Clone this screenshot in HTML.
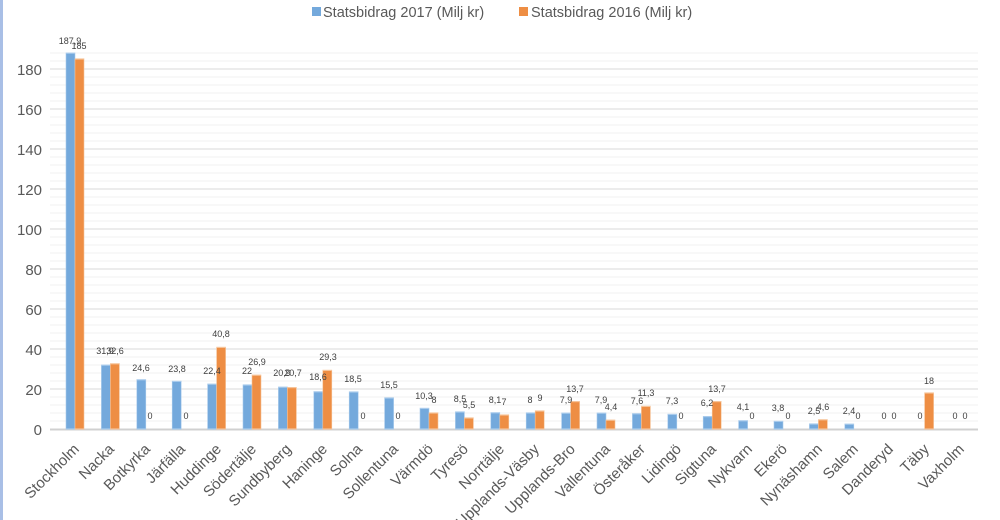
<!DOCTYPE html>
<html><head><meta charset="utf-8"><style>
body{margin:0;background:#fff;}
svg{display:block;font-family:"Liberation Sans",sans-serif;}
.v{font-size:9px;fill:#404040;text-anchor:middle}
.c{font-size:15px;fill:#595959;text-anchor:end}
.y{font-size:15px;fill:#595959;text-anchor:end}
.b{fill:#74a9dc;stroke:#a9cbec;stroke-width:.6}
.o{fill:#ee8e44;stroke:#f6c49a;stroke-width:.6}
</style></head><body>
<svg width="1000" height="520" viewBox="0 0 1000 520">
<rect x="0" y="0" width="3" height="520" fill="#a9bfe6"/>
<g stroke="#f0f0f0" stroke-width="1">
<line x1="50" x2="978" y1="421" y2="421"/><line x1="50" x2="978" y1="413" y2="413"/><line x1="50" x2="978" y1="405" y2="405"/><line x1="50" x2="978" y1="397" y2="397"/>
<line x1="50" x2="978" y1="381" y2="381"/><line x1="50" x2="978" y1="373" y2="373"/><line x1="50" x2="978" y1="365" y2="365"/><line x1="50" x2="978" y1="357" y2="357"/>
<line x1="50" x2="978" y1="341" y2="341"/><line x1="50" x2="978" y1="333" y2="333"/><line x1="50" x2="978" y1="325" y2="325"/><line x1="50" x2="978" y1="317" y2="317"/>
<line x1="50" x2="978" y1="301" y2="301"/><line x1="50" x2="978" y1="293" y2="293"/><line x1="50" x2="978" y1="285" y2="285"/><line x1="50" x2="978" y1="277" y2="277"/>
<line x1="50" x2="978" y1="261" y2="261"/><line x1="50" x2="978" y1="253" y2="253"/><line x1="50" x2="978" y1="245" y2="245"/><line x1="50" x2="978" y1="237" y2="237"/>
<line x1="50" x2="978" y1="221" y2="221"/><line x1="50" x2="978" y1="213" y2="213"/><line x1="50" x2="978" y1="205" y2="205"/><line x1="50" x2="978" y1="197" y2="197"/>
<line x1="50" x2="978" y1="181" y2="181"/><line x1="50" x2="978" y1="173" y2="173"/><line x1="50" x2="978" y1="165" y2="165"/><line x1="50" x2="978" y1="157" y2="157"/>
<line x1="50" x2="978" y1="141" y2="141"/><line x1="50" x2="978" y1="133" y2="133"/><line x1="50" x2="978" y1="125" y2="125"/><line x1="50" x2="978" y1="117" y2="117"/>
<line x1="50" x2="978" y1="101" y2="101"/><line x1="50" x2="978" y1="93" y2="93"/><line x1="50" x2="978" y1="85" y2="85"/><line x1="50" x2="978" y1="77" y2="77"/>
<line x1="50" x2="978" y1="61" y2="61"/><line x1="50" x2="978" y1="53" y2="53"/>
</g>
<g stroke="#dadada" stroke-width="1">
<line x1="50" x2="978" y1="389" y2="389"/><line x1="50" x2="978" y1="349" y2="349"/><line x1="50" x2="978" y1="309" y2="309"/><line x1="50" x2="978" y1="269" y2="269"/><line x1="50" x2="978" y1="229" y2="229"/><line x1="50" x2="978" y1="189" y2="189"/><line x1="50" x2="978" y1="149" y2="149"/><line x1="50" x2="978" y1="109" y2="109"/><line x1="50" x2="978" y1="69" y2="69"/>
</g>
<line x1="50" x2="978" y1="429.5" y2="429.5" stroke="#d0d0d0" stroke-width="2"/>
<g class="y">
<text x="42" y="435">0</text><text x="42" y="395">20</text><text x="42" y="355">40</text><text x="42" y="315">60</text><text x="42" y="275">80</text><text x="42" y="235">100</text><text x="42" y="195">120</text><text x="42" y="155">140</text><text x="42" y="115">160</text><text x="42" y="75">180</text>
</g>
<rect x="312" y="7" width="9" height="9" fill="#74a9dc"/>
<text x="323" y="17" font-size="14.5" fill="#595959">Statsbidrag 2017 (Milj kr)</text>
<rect x="519" y="7" width="9" height="9" fill="#ee8e44"/>
<text x="531" y="17" font-size="14.5" fill="#595959">Statsbidrag 2016 (Milj kr)</text>

<g transform="translate(75,429) scale(1,-2)"><rect class="b" x="-9" y="0" width="9" height="187.9"/><rect class="o" x="0" y="0" width="9" height="185"/></g>
<text class="v" x="70" y="44">187,9</text><text class="v" x="79" y="49">185</text>
<g transform="translate(110.4,429) scale(1,-2)"><rect class="b" x="-9" y="0" width="9" height="31.9"/><rect class="o" x="0" y="0" width="9" height="32.6"/></g>
<text class="v" x="105" y="354">31,9</text><text class="v" x="115" y="354">32,6</text>
<g transform="translate(145.8,429) scale(1,-2)"><rect class="b" x="-9" y="0" width="9" height="24.6"/></g>
<text class="v" x="141" y="371">24,6</text><text class="v" x="150" y="419">0</text>
<g transform="translate(181.2,429) scale(1,-2)"><rect class="b" x="-9" y="0" width="9" height="23.8"/></g>
<text class="v" x="177" y="372">23,8</text><text class="v" x="186" y="419">0</text>
<g transform="translate(216.6,429) scale(1,-2)"><rect class="b" x="-9" y="0" width="9" height="22.4"/><rect class="o" x="0" y="0" width="9" height="40.8"/></g>
<text class="v" x="212" y="374">22,4</text><text class="v" x="221" y="337">40,8</text>
<g transform="translate(252,429) scale(1,-2)"><rect class="b" x="-9" y="0" width="9" height="22"/><rect class="o" x="0" y="0" width="9" height="26.9"/></g>
<text class="v" x="247" y="374">22</text><text class="v" x="257" y="365">26,9</text>
<g transform="translate(287.4,429) scale(1,-2)"><rect class="b" x="-9" y="0" width="9" height="20.9"/><rect class="o" x="0" y="0" width="9" height="20.7"/></g>
<text class="v" x="282" y="376">20,9</text><text class="v" x="293" y="376">20,7</text>
<g transform="translate(322.8,429) scale(1,-2)"><rect class="b" x="-9" y="0" width="9" height="18.6"/><rect class="o" x="0" y="0" width="9" height="29.3"/></g>
<text class="v" x="318" y="380">18,6</text><text class="v" x="328" y="360">29,3</text>
<g transform="translate(358.2,429) scale(1,-2)"><rect class="b" x="-9" y="0" width="9" height="18.5"/></g>
<text class="v" x="353" y="382">18,5</text><text class="v" x="363" y="419">0</text>
<g transform="translate(393.6,429) scale(1,-2)"><rect class="b" x="-9" y="0" width="9" height="15.5"/></g>
<text class="v" x="389" y="388">15,5</text><text class="v" x="398" y="419">0</text>
<g transform="translate(429,429) scale(1,-2)"><rect class="b" x="-9" y="0" width="9" height="10.3"/><rect class="o" x="0" y="0" width="9" height="8"/></g>
<text class="v" x="424" y="399">10,3</text><text class="v" x="434" y="403">8</text>
<g transform="translate(464.4,429) scale(1,-2)"><rect class="b" x="-9" y="0" width="9" height="8.5"/><rect class="o" x="0" y="0" width="9" height="5.5"/></g>
<text class="v" x="460" y="402">8,5</text><text class="v" x="469" y="408">5,5</text>
<g transform="translate(499.8,429) scale(1,-2)"><rect class="b" x="-9" y="0" width="9" height="8.1"/><rect class="o" x="0" y="0" width="9" height="7"/></g>
<text class="v" x="495" y="403">8,1</text><text class="v" x="504" y="405">7</text>
<g transform="translate(535.2,429) scale(1,-2)"><rect class="b" x="-9" y="0" width="9" height="8"/><rect class="o" x="0" y="0" width="9" height="9"/></g>
<text class="v" x="530" y="403">8</text><text class="v" x="540" y="401">9</text>
<g transform="translate(570.6,429) scale(1,-2)"><rect class="b" x="-9" y="0" width="9" height="7.9"/><rect class="o" x="0" y="0" width="9" height="13.7"/></g>
<text class="v" x="566" y="403">7,9</text><text class="v" x="575" y="392">13,7</text>
<g transform="translate(606,429) scale(1,-2)"><rect class="b" x="-9" y="0" width="9" height="7.9"/><rect class="o" x="0" y="0" width="9" height="4.4"/></g>
<text class="v" x="601" y="403">7,9</text><text class="v" x="611" y="410">4,4</text>
<g transform="translate(641.4,429) scale(1,-2)"><rect class="b" x="-9" y="0" width="9" height="7.6"/><rect class="o" x="0" y="0" width="9" height="11.3"/></g>
<text class="v" x="637" y="404">7,6</text><text class="v" x="646" y="396">11,3</text>
<g transform="translate(676.8,429) scale(1,-2)"><rect class="b" x="-9" y="0" width="9" height="7.3"/></g>
<text class="v" x="672" y="404">7,3</text><text class="v" x="681" y="419">0</text>
<g transform="translate(712.2,429) scale(1,-2)"><rect class="b" x="-9" y="0" width="9" height="6.2"/><rect class="o" x="0" y="0" width="9" height="13.7"/></g>
<text class="v" x="707" y="406">6,2</text><text class="v" x="717" y="392">13,7</text>
<g transform="translate(747.6,429) scale(1,-2)"><rect class="b" x="-9" y="0" width="9" height="4.1"/></g>
<text class="v" x="743" y="410">4,1</text><text class="v" x="752" y="419">0</text>
<g transform="translate(783,429) scale(1,-2)"><rect class="b" x="-9" y="0" width="9" height="3.8"/></g>
<text class="v" x="778" y="411">3,8</text><text class="v" x="788" y="419">0</text>
<g transform="translate(818.4,429) scale(1,-2)"><rect class="b" x="-9" y="0" width="9" height="2.5"/><rect class="o" x="0" y="0" width="9" height="4.6"/></g>
<text class="v" x="814" y="414">2,5</text><text class="v" x="823" y="410">4,6</text>
<g transform="translate(853.8,429) scale(1,-2)"><rect class="b" x="-9" y="0" width="9" height="2.4"/></g>
<text class="v" x="849" y="414">2,4</text><text class="v" x="858" y="419">0</text>
<text class="v" x="884" y="419">0</text><text class="v" x="894" y="419">0</text>
<g transform="translate(924.6,429) scale(1,-2)"><rect class="o" x="0" y="0" width="9" height="18"/></g>
<text class="v" x="920" y="419">0</text><text class="v" x="929" y="384">18</text>
<text class="v" x="955" y="419">0</text><text class="v" x="965" y="419">0</text>

<g class="c">
<text transform="translate(80,450) rotate(-45)">Stockholm</text>
<text transform="translate(115,450) rotate(-45)">Nacka</text>
<text transform="translate(151,450) rotate(-45)">Botkyrka</text>
<text transform="translate(186,450) rotate(-45)">Järfälla</text>
<text transform="translate(222,450) rotate(-45)">Huddinge</text>
<text transform="translate(257,450) rotate(-45)">Södertälje</text>
<text transform="translate(292,450) rotate(-45)">Sundbyberg</text>
<text transform="translate(328,450) rotate(-45)">Haninge</text>
<text transform="translate(363,450) rotate(-45)">Solna</text>
<text transform="translate(399,450) rotate(-45)">Sollentuna</text>
<text transform="translate(434,450) rotate(-45)">Värmdö</text>
<text transform="translate(469,450) rotate(-45)">Tyresö</text>
<text transform="translate(505,450) rotate(-45)">Norrtälje</text>
<text transform="translate(540,450) rotate(-45)">Upplands-Väsby</text>
<text transform="translate(576,450) rotate(-45)">Upplands-Bro</text>
<text transform="translate(611,450) rotate(-45)">Vallentuna</text>
<text transform="translate(646,450) rotate(-45)">Österåker</text>
<text transform="translate(682,450) rotate(-45)">Lidingö</text>
<text transform="translate(717,450) rotate(-45)">Sigtuna</text>
<text transform="translate(753,450) rotate(-45)">Nykvarn</text>
<text transform="translate(788,450) rotate(-45)">Ekerö</text>
<text transform="translate(823,450) rotate(-45)">Nynäshamn</text>
<text transform="translate(859,450) rotate(-45)">Salem</text>
<text transform="translate(894,450) rotate(-45)">Danderyd</text>
<text transform="translate(930,450) rotate(-45)">Täby</text>
<text transform="translate(965,450) rotate(-45)">Vaxholm</text>
</g>
</svg>
</body></html>
